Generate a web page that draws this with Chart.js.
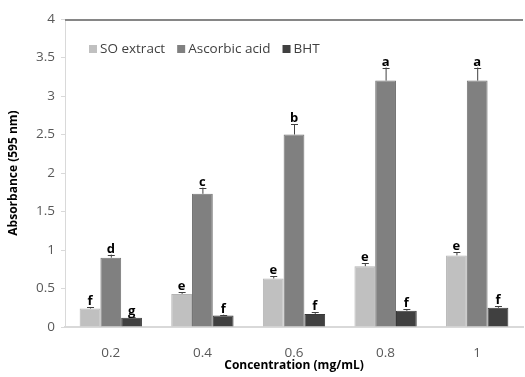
<!DOCTYPE html>
<html><head><meta charset="utf-8">
<script src="https://cdn.jsdelivr.net/npm/chart.js@4"></script>
<style>html,body{margin:0;padding:0;background:#fff}#wrap{width:525px;height:377px}</style>
</head><body><div id="wrap"><canvas id="c" width="525" height="377"></canvas></div>
<script>
const categories = ['0.2', '0.4', '0.6', '0.8', '1'];
const seriesNames = ['SO extract', 'Ascorbic acid', 'BHT'];
const soExtract = [0.24, 0.43, 0.63, 0.79, 0.93];
const ascorbicAcid = [0.90, 1.73, 2.50, 3.20, 3.20];
const bht = [0.12, 0.15, 0.17, 0.21, 0.25];
const soErr = [0.02, 0.02, 0.03, 0.04, 0.04];
const ascorbicErr = [0.04, 0.08, 0.13, 0.17, 0.17];
const bhtErr = [0.01, 0.01, 0.02, 0.02, 0.02];
const soLetters = ['f', 'e', 'e', 'e', 'e'];
const ascorbicLetters = ['d', 'c', 'b', 'a', 'a'];
const bhtLetters = ['g', 'f', 'f', 'f', 'f'];
const yTicks = [0, 0.5, 1, 1.5, 2, 2.5, 3, 3.5, 4];

const errs = [soErr, ascorbicErr, bhtErr];
const letters = [soLetters, ascorbicLetters, bhtLetters];
const FONT = "'Open Sans', 'Noto Sans', sans-serif";

const errPlugin = {
  id: 'errLetters',
  afterDatasetsDraw(chart) {
    const ctx = chart.ctx;
    const y = chart.scales.y;
    chart.data.datasets.forEach((ds, di) => {
      const meta = chart.getDatasetMeta(di);
      meta.data.forEach((bar, i) => {
        const v = ds.data[i];
        const top = y.getPixelForValue(v + errs[di][i]);
        const x = bar.x;
        ctx.save();
        ctx.strokeStyle = '#404040';
        ctx.lineWidth = 1;
        ctx.beginPath();
        ctx.moveTo(x + 0.5, bar.y);
        ctx.lineTo(x + 0.5, top);
        ctx.moveTo(x - 3, Math.round(top) + 0.5);
        ctx.lineTo(x + 4, Math.round(top) + 0.5);
        ctx.stroke();
        ctx.fillStyle = '#000';
        ctx.font = "bold 13px " + FONT;
        ctx.textAlign = 'center';
        ctx.textBaseline = 'alphabetic';
        ctx.fillText(letters[di][i], x, top - 2);
        ctx.restore();
      });
    });
  }
};

const legendPlugin = {
  id: 'insideLegend',
  afterDraw(chart) {
    const ctx = chart.ctx;
    const area = chart.chartArea;
    ctx.save();
    ctx.strokeStyle = '#868686';
    ctx.lineWidth = 2;
    ctx.beginPath();
    ctx.moveTo(area.left, area.top + 1);
    ctx.lineTo(area.right, area.top + 1);
    ctx.stroke();
    let x = area.left + 24;
    const yc = area.top + 30;
    ctx.font = "13.5px " + FONT;
    ctx.textBaseline = 'middle';
    ctx.textAlign = 'left';
    chart.data.datasets.forEach(ds => {
      ctx.fillStyle = ds.backgroundColor;
      ctx.fillRect(x, yc - 4, 8, 8);
      x += 11;
      ctx.fillStyle = '#404040';
      ctx.fillText(ds.label, x, yc);
      x += ctx.measureText(ds.label).width + 12;
    });
    ctx.restore();
  }
};

new Chart(document.getElementById('c'), {
  type: 'bar',
  data: {
    labels: categories,
    datasets: [
      { label: seriesNames[0], data: soExtract, backgroundColor: '#c0c0c0', borderColor: '#b4b4b4', borderWidth: 1 },
      { label: seriesNames[1], data: ascorbicAcid, backgroundColor: '#808080', borderColor: '#747474', borderWidth: 1 },
      { label: seriesNames[2], data: bht, backgroundColor: '#404040', borderColor: '#383838', borderWidth: 1 }
    ]
  },
  options: {
    responsive: false,
    animation: false,
    layout: { padding: { top: 19, right: 2, left: 0, bottom: 0 } },
    datasets: { bar: { barPercentage: 1, categoryPercentage: 0.68 } },
    plugins: {
      legend: { display: false },
      tooltip: { enabled: false }
    },
    scales: {
      x: {
        grid: { display: false, drawTicks: false },
        border: { color: '#d9d9d9', width: 2 },
        ticks: { color: '#595959', font: { family: FONT, size: 13.5 }, padding: 18 },
        title: { display: true, text: 'Concentration (mg/mL)', color: '#000', font: { family: FONT, size: 12, weight: 'bold' }, padding: { top: 0 } },
        afterFit(s) { s.height = 50; }
      },
      y: {
        min: 0, max: 4,
        afterBuildTicks(s) { s.ticks = yTicks.map(v => ({ value: v })); },
        grid: {
          color: 'rgba(0,0,0,0)',
          drawTicks: true, tickLength: 4, tickColor: '#d9d9d9'
        },
        border: { color: '#d9d9d9', width: 1 },
        ticks: { color: '#595959', font: { family: FONT, size: 13.5 }, padding: 6, callback: v => String(v) },
        title: { display: true, text: 'Absorbance (595 nm)', color: '#000', font: { family: FONT, size: 12, weight: 'bold' }, padding: { top: 6, bottom: 4 } },
        afterFit(s) { s.width = 65; }
      }
    }
  },
  plugins: [errPlugin, legendPlugin]
});
</script>
</body></html>
